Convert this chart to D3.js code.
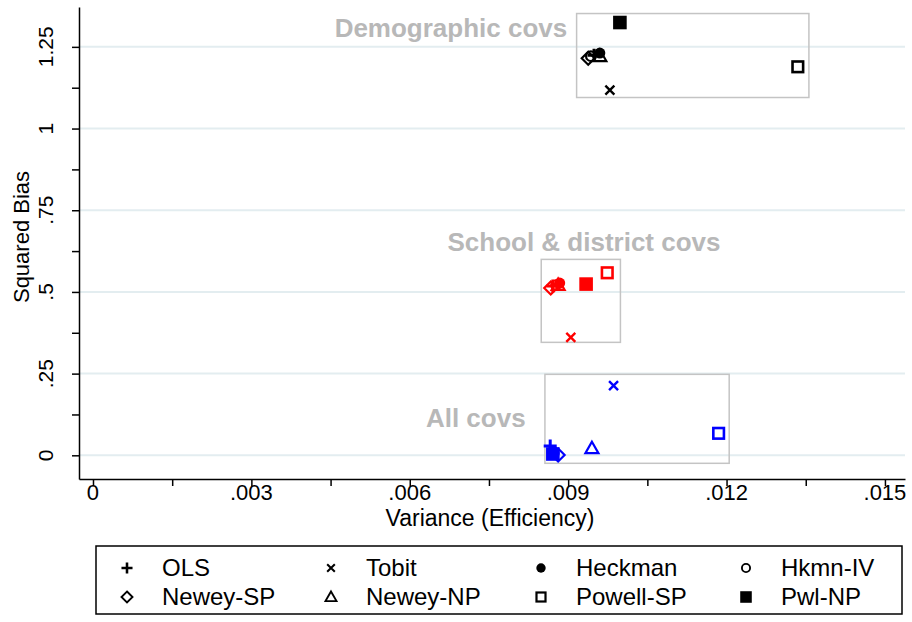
<!DOCTYPE html>
<html>
<head>
<meta charset="utf-8">
<script src="https://cdn.jsdelivr.net/npm/d3@7"></script>
<style>
  body { margin: 0; background: #fff; }
  text { font-family: "Liberation Sans", Arial, sans-serif; }
</style>
</head>
<body>
<div id="chart"></div>
<script>
// Estimators and marker symbols (legend order)
const estimators = ["OLS", "Tobit", "Heckman", "Hkmn-IV", "Newey-SP", "Newey-NP", "Powell-SP", "Pwl-NP"];
const symbols = ["plus", "cross", "dot", "circle", "diamond", "triangle", "square", "squareFill"];

// Covariate sets
const groups = ["Demographic covs", "School & district covs", "All covs"];
const groupColors = ["#000000", "#ff0000", "#0000ff"];

// Variance (x) and squared bias (y) per estimator, for each covariate set
const demoVar  = [0.00949, 0.00979, 0.00960, 0.00943, 0.00938, 0.00960, 0.01335, 0.00998];
const demoBias = [1.224, 1.1175, 1.231, 1.2215, 1.215, 1.2215, 1.189, 1.3245];
const schoolVar  = [0.00871, 0.00905, 0.00884, 0.00877, 0.00867, 0.00881, 0.00974, 0.00934];
const schoolBias = [0.518, 0.361, 0.527, 0.521, 0.512, 0.521, 0.5586, 0.524];
const allVar  = [0.00866, 0.00986, 0.00871, 0.00873, 0.00881, 0.00945, 0.01185, 0.00871];
const allBias = [0.0285, 0.213, 0.0132, 0.007, 0.001, 0.0214, 0.0673, 0.004];

// Highlight boxes around each cluster (data units) and label anchors
const boxX0 = [0.00916, 0.00849, 0.00856];
const boxX1 = [0.01356, 0.00999, 0.01205];
const boxY0 = [1.095, 0.3457, -0.0245];
const boxY1 = [1.352, 0.5996, 0.2478];
const labelX = [0.00678, 0.00930, 0.00725];
const labelY = [1.2796, 0.6265, 0.0872];

// Axis ticks
const xTicks = [0, 0.0015, 0.003, 0.0045, 0.006, 0.0075, 0.009, 0.0105, 0.012, 0.0135, 0.015];
const xLabels = [0, 0.003, 0.006, 0.009, 0.012, 0.015];
const yTicks = [0, 0.125, 0.25, 0.375, 0.5, 0.625, 0.75, 0.875, 1, 1.125, 1.25];
const yLabels = [0, 0.25, 0.5, 0.75, 1, 1.25];

const W = 912, H = 622;
const svg = d3.select("#chart").append("svg")
    .attr("width", W)
    .attr("height", H);

const x = d3.scaleLinear().domain([-0.000265, 0.01538]).range([79, 905]);
const y = d3.scaleLinear().domain([-0.0725, 1.372]).range([479, 7]);

const fmt = v => v === 0 ? "0" : String(v).replace(/^0/, "");

// Gridlines
svg.append("g").selectAll("line")
    .data(yLabels)
    .enter().append("line")
    .attr("x1", x.range()[0]).attr("x2", x.range()[1])
    .attr("y1", d => y(d)).attr("y2", d => y(d))
    .attr("stroke", "#e3edf0")
    .attr("stroke-width", 2);

// X axis
const xAxis = svg.append("g")
    .attr("transform", `translate(0,${y.range()[0]})`)
    .call(d3.axisBottom(x).tickValues(xTicks).tickSize(7).tickSizeOuter(0).tickFormat(""));
xAxis.selectAll("path, line").attr("stroke", "#000").attr("stroke-width", 1.5);
svg.append("g").selectAll("text")
    .data(xLabels)
    .enter().append("text")
    .attr("x", d => x(d))
    .attr("y", 500)
    .attr("text-anchor", "middle")
    .style("font-size", "22px")
    .text(fmt);

svg.append("text")
    .attr("x", 490).attr("y", 526)
    .attr("text-anchor", "middle")
    .style("font-size", "23px")
    .text("Variance (Efficiency)");

// Y axis
const yAxis = svg.append("g")
    .attr("transform", `translate(${x.range()[0]},0)`)
    .call(d3.axisLeft(y).tickValues(yTicks).tickSize(7).tickSizeOuter(0).tickFormat(""));
yAxis.selectAll("path, line").attr("stroke", "#000").attr("stroke-width", 1.5);
svg.append("g").selectAll("text")
    .data(yLabels)
    .enter().append("text")
    .attr("transform", d => `translate(53,${y(d)}) rotate(-90)`)
    .attr("text-anchor", "middle")
    .style("font-size", "21px")
    .text(fmt);

svg.append("text")
    .attr("transform", `translate(29,237) rotate(-90)`)
    .attr("text-anchor", "middle")
    .style("font-size", "22px")
    .text("Squared Bias");

// Cluster boxes and labels
svg.append("g").selectAll("rect")
    .data(groups)
    .enter().append("rect")
    .attr("x", (d, i) => x(boxX0[i]))
    .attr("y", (d, i) => y(boxY1[i]))
    .attr("width", (d, i) => x(boxX1[i]) - x(boxX0[i]))
    .attr("height", (d, i) => y(boxY0[i]) - y(boxY1[i]))
    .attr("fill", "none")
    .attr("stroke", "#c4c4c4")
    .attr("stroke-width", 1.5);

svg.append("g").selectAll("text")
    .data(groups)
    .enter().append("text")
    .attr("x", (d, i) => x(labelX[i]))
    .attr("y", (d, i) => y(labelY[i]))
    .attr("text-anchor", "middle")
    .style("font-size", "26px")
    .style("font-weight", "bold")
    .attr("fill", "#b8b8b8")
    .text(d => d);

// Marker drawing
function marker(g, type, cx, cy, color, k) {
    const m = g.append("g").attr("transform", `translate(${cx},${cy})`);
    if (type === "plus") {
        const s = 6.5 * k;
        m.append("path").attr("d", `M${-s},0H${s}M0,${-s}V${s}`)
            .attr("stroke", color).attr("stroke-width", 3 * k).attr("fill", "none");
    } else if (type === "cross") {
        const s = 4.5 * k;
        m.append("path").attr("d", `M${-s},${-s}L${s},${s}M${-s},${s}L${s},${-s}`)
            .attr("stroke", color).attr("stroke-width", 2.4 * k).attr("fill", "none");
    } else if (type === "dot") {
        m.append("circle").attr("r", 5.5 * k).attr("fill", color);
    } else if (type === "circle") {
        m.append("circle").attr("r", 4.8 * k).attr("fill", "none")
            .attr("stroke", color).attr("stroke-width", 2.2 * k);
    } else if (type === "diamond") {
        const s = 6.5 * k;
        m.append("path").attr("d", `M0,${-s}L${s},0L0,${s}L${-s},0Z`)
            .attr("fill", "none").attr("stroke", color).attr("stroke-width", 2.2 * k);
    } else if (type === "triangle") {
        const s = 6.5 * k;
        m.append("path").attr("d", `M0,${-s}L${s},${s * 0.75}L${-s},${s * 0.75}Z`)
            .attr("fill", "none").attr("stroke", color).attr("stroke-width", 2.2 * k);
    } else if (type === "square") {
        const s = 5.3 * k;
        m.append("rect").attr("x", -s).attr("y", -s).attr("width", 2 * s).attr("height", 2 * s)
            .attr("fill", "none").attr("stroke", color).attr("stroke-width", 2.6 * k);
    } else if (type === "squareFill") {
        const s = 6.8 * k;
        m.append("rect").attr("x", -s).attr("y", -s).attr("width", 2 * s).attr("height", 2 * s)
            .attr("fill", color);
    }
}

// Points
const varSets = [demoVar, schoolVar, allVar];
const biasSets = [demoBias, schoolBias, allBias];
const pts = svg.append("g");
groups.forEach((grp, gi) => {
    estimators.forEach((est, i) => {
        marker(pts, symbols[i], x(varSets[gi][i]), y(biasSets[gi][i]), groupColors[gi], 1);
    });
});

// Legend
const legend = svg.append("g");
legend.append("rect")
    .attr("x", 96).attr("y", 546)
    .attr("width", 806).attr("height", 68)
    .attr("fill", "#fff")
    .attr("stroke", "#000")
    .attr("stroke-width", 1.5);

const colX = [127, 331, 541, 746];
const rowY = [568, 597];
estimators.forEach((est, i) => {
    const cx = colX[i % 4], cy = rowY[Math.floor(i / 4)];
    marker(legend, symbols[i], cx, cy, "#000", 0.85);
    legend.append("text")
        .attr("x", cx + 35)
        .attr("y", cy + 8)
        .style("font-size", "24px")
        .text(est);
});
</script>
</body>
</html>
